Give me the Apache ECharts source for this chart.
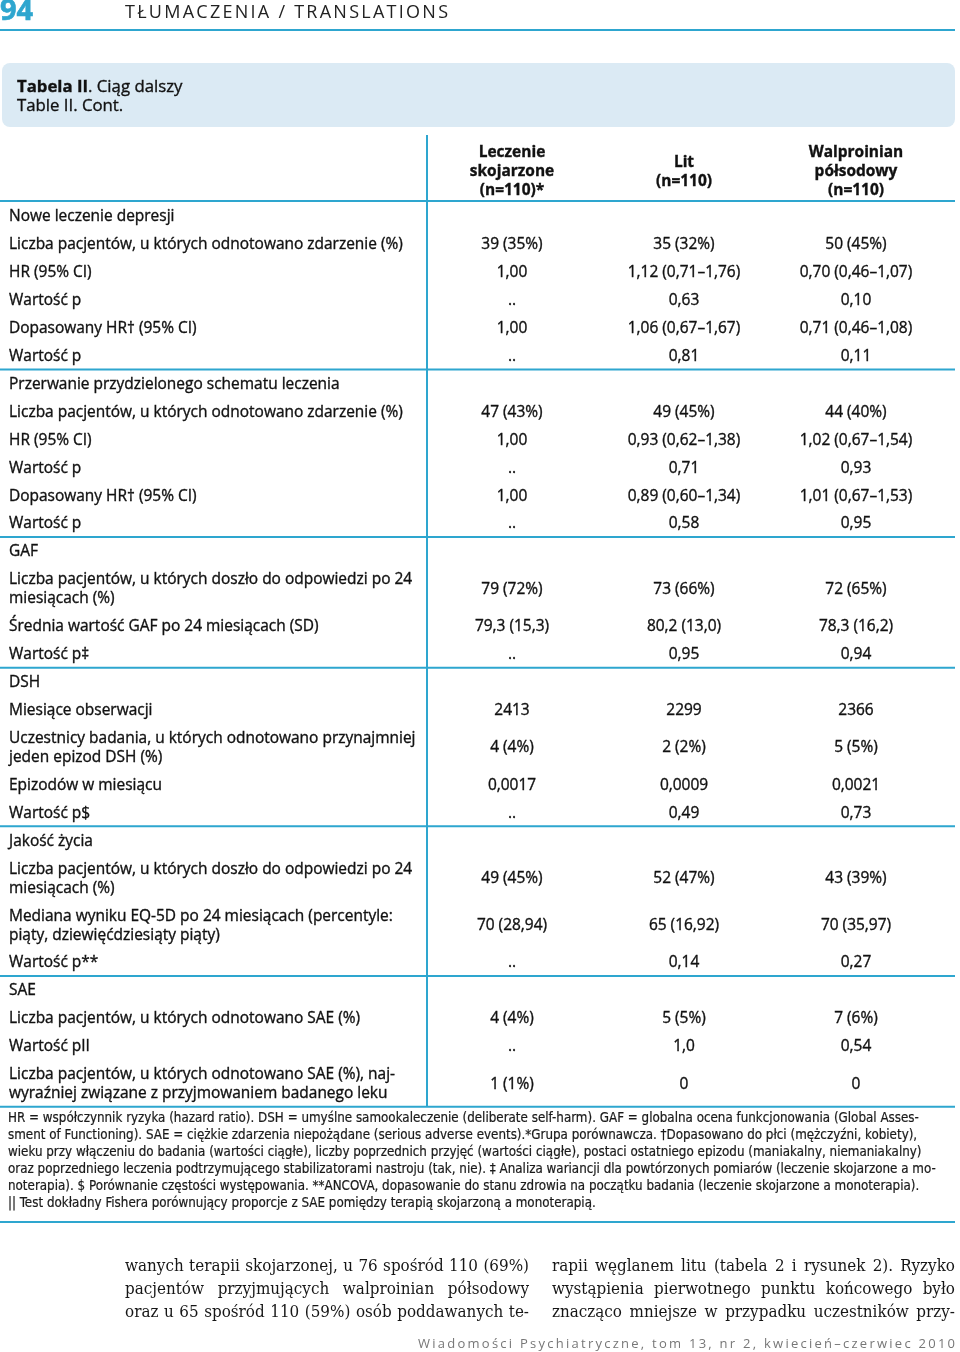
<!DOCTYPE html>
<html>
<head>
<meta charset="utf-8">
<script src="https://cdn.jsdelivr.net/npm/echarts@6/dist/echarts.min.js"></script>
<style>
  html, body { margin: 0; padding: 0; background: #fff; }
  #chart { width: 960px; height: 1352px; }
</style>
</head>
<body>
<div id="chart"></div>
<script>
// naglowki kolumn
const columnHeaders = ['Leczenie\nskojarzone\n(n=110)*', 'Lit\n(n=110)', 'Walproinian\npółsodowy\n(n=110)']

// sekcje tabeli
const sections = ['Nowe leczenie depresji', 'Przerwanie przydzielonego schematu leczenia', 'GAF', 'DSH', 'Jakość życia', 'SAE']

const rowLabels = [
  ['Liczba pacjentów, u których odnotowano zdarzenie (%)', 'HR (95% CI)', 'Wartość p', 'Dopasowany HR† (95% CI)', 'Wartość p'],
  ['Liczba pacjentów, u których odnotowano zdarzenie (%)', 'HR (95% CI)', 'Wartość p', 'Dopasowany HR† (95% CI)', 'Wartość p'],
  ['Liczba pacjentów, u których doszło do odpowiedzi po 24\nmiesiącach (%)', 'Średnia wartość GAF po 24 miesiącach (SD)', 'Wartość p‡'],
  ['Miesiące obserwacji', 'Uczestnicy badania, u których odnotowano przynajmniej\njeden epizod DSH (%)', 'Epizodów w miesiącu', 'Wartość p$'],
  ['Liczba pacjentów, u których doszło do odpowiedzi po 24\nmiesiącach (%)', 'Mediana wyniku EQ-5D po 24 miesiącach (percentyle:\npiąty, dziewięćdziesiąty piąty)', 'Wartość p**'],
  ['Liczba pacjentów, u których odnotowano SAE (%)', 'Wartość pII', 'Liczba pacjentów, u których odnotowano SAE (%), naj-\nwyraźniej związane z przyjmowaniem badanego leku']
]

const combined = [
  ['39 (35%)', '1,00', '..', '1,00', '..'],
  ['47 (43%)', '1,00', '..', '1,00', '..'],
  ['79 (72%)', '79,3 (15,3)', '..'],
  ['2413', '4 (4%)', '0,0017', '..'],
  ['49 (45%)', '70 (28,94)', '..'],
  ['4 (4%)', '..', '1 (1%)']
]

const lithium = [
  ['35 (32%)', '1,12 (0,71–1,76)', '0,63', '1,06 (0,67–1,67)', '0,81'],
  ['49 (45%)', '0,93 (0,62–1,38)', '0,71', '0,89 (0,60–1,34)', '0,58'],
  ['73 (66%)', '80,2 (13,0)', '0,95'],
  ['2299', '2 (2%)', '0,0009', '0,49'],
  ['52 (47%)', '65 (16,92)', '0,14'],
  ['5 (5%)', '1,0', '0']
]

const valproate = [
  ['50 (45%)', '0,70 (0,46–1,07)', '0,10', '0,71 (0,46–1,08)', '0,11'],
  ['44 (40%)', '1,02 (0,67–1,54)', '0,93', '1,01 (0,67–1,53)', '0,95'],
  ['72 (65%)', '78,3 (16,2)', '0,94'],
  ['2366', '5 (5%)', '0,0021', '0,73'],
  ['43 (39%)', '70 (35,97)', '0,27'],
  ['7 (6%)', '0,54', '0']
]

const footnotes = [
  'HR = współczynnik ryzyka (hazard ratio). DSH = umyślne samookaleczenie (deliberate self-harm). GAF = globalna ocena funkcjonowania (Global Asses-',
  'sment of Functioning). SAE = ciężkie zdarzenia niepożądane (serious adverse events).*Grupa porównawcza. †Dopasowano do płci (mężczyźni, kobiety),',
  'wieku przy włączeniu do badania (wartości ciągłe), liczby poprzednich przyjęć (wartości ciągłe), postaci ostatniego epizodu (maniakalny, niemaniakalny)',
  'oraz poprzedniego leczenia podtrzymującego stabilizatorami nastroju (tak, nie). ‡ Analiza wariancji dla powtórzonych pomiarów (leczenie skojarzone a mo-',
  'noterapia). $ Porównanie częstości występowania. **ANCOVA, dopasowanie do stanu zdrowia na początku badania (leczenie skojarzone a monoterapia).',
  '|| Test dokładny Fishera porównujący proporcje z SAE pomiędzy terapią skojarzoną a monoterapią.'
]

const bodyLeft = [
  'wanych terapii skojarzonej, u 76 spośród 110 (69%)',
  'pacjentów przyjmujących walproinian półsodowy',
  'oraz u 65 spośród 110 (59%) osób poddawanych te-'
]
const bodyRight = [
  'rapii węglanem litu (tabela 2 i rysunek 2). Ryzyko',
  'wystąpienia pierwotnego punktu końcowego było',
  'znacząco mniejsze w przypadku uczestników przy-'
]

const pageNumber = '94'
const runningHead = 'TŁUMACZENIA / TRANSLATIONS'
const tableTitle = ['Tabela II', '. Ciąg dalszy', 'Table II. Cont.']
const journal = 'Wiadomości Psychiatryczne, tom 13, nr 2, kwiecień–czerwiec 2010'

// --- pomiar tekstu ---
const ctx = document.createElement('canvas').getContext('2d')
const measure = (text, font) => { ctx.font = font; return ctx.measureText(text).width }
const fitSize = (text, family, weight, target) => {
  const w = measure(text, weight + ' 100px ' + family)
  return 100 * target / w
}

const CYAN = '#2ea6cf'
const INK = '#111'
const SANS = "'Open Sans', 'Noto Sans', sans-serif"
const NARROW = "'Liberation Sans Narrow', 'DejaVu Sans Condensed', 'Roboto Condensed', sans-serif"
const SERIF = "'DejaVu Serif', 'Liberation Serif', serif"
const DY = 2 // korekta pionowa wyrownania 'middle'

const tableSize = fitSize(rowLabels[0][0], SANS, 'normal', 394)
const tableFont = 'normal ' + tableSize + 'px ' + SANS
const titleSize = fitSize(tableTitle[0] + tableTitle[1], SANS, 'normal', 160)
const noteSize = Math.min(13.8, fitSize(footnotes[0], NARROW, 'normal', 912))

const elements = []
// lekkie pogrubienie konturem, jak w skanie
const text = (x, y, str, opt = {}, scaleX = 1) => elements.push({
  type: 'text', x, y: y + DY, scaleX, silent: true,
  style: Object.assign({
    text: str, fill: INK, font: tableFont, stroke: INK, lineWidth: 0.35,
    align: 'left', verticalAlign: 'middle', lineHeight: 19
  }, opt)
})
const hline = (x1, x2, y, w = 2) => elements.push({
  type: 'line', silent: true, shape: { x1, y1: y, x2, y2: y }, style: { stroke: CYAN, lineWidth: w }
})

// tekst z rozstrzelonymi literami
const spaced = (str, x0, x1, y, font, color) => {
  const widths = [...str].map(c => measure(c, font))
  const total = widths.reduce((a, b) => a + b, 0)
  const gap = (x1 - x0 - total) / (str.length - 1)
  let x = x0
  ;[...str].forEach((c, i) => {
    text(x, y, c, { font, fill: color, lineWidth: 0 })
    x += widths[i] + gap
  })
}

// justowanie akapitu (z poziomym zwezeniem kroju)
const justify = (line, x0, x1, y, font, sx) => {
  const words = line.split(' ')
  const widths = words.map(w => measure(w, font) * sx)
  const total = widths.reduce((a, b) => a + b, 0)
  const gap = (x1 - x0 - total) / (words.length - 1)
  let x = x0
  words.forEach((w, i) => { text(x, y, w, { font, fill: '#161616', lineWidth: 0 }, sx); x += widths[i] + gap })
}

// naglowek strony
text(0, 10, pageNumber, { font: 'bold 29px ' + SANS, fill: CYAN, stroke: CYAN, lineWidth: 0.6 })
spaced(runningHead, 125, 448, 11, 'normal 18px ' + SANS, '#222')
hline(0, 955, 30)

// tytul tabeli
elements.push({
  type: 'rect', silent: true, shape: { x: 2, y: 63, width: 953, height: 64, r: 8 },
  style: { fill: '#dbeaf4' }
})
const titleFont = 'normal ' + titleSize + 'px ' + SANS
text(17, 85, '{b|' + tableTitle[0] + '}' + tableTitle[1], {
  font: titleFont,
  rich: { b: { fontWeight: 'bold', fontSize: titleSize, fontFamily: SANS, fill: INK } }
})
text(17, 104, tableTitle[2], { font: titleFont })

// kolumny
const colX = [512, 684, 856]
const labelX = 9
columnHeaders.forEach((h, i) => text(colX[i], 170, h, {
  align: 'center', font: 'bold ' + tableSize + 'px ' + SANS
}))

const ROW = 27.9, LINE = 19, BEFORE = 13, AFTER = 15
let lineY = 201
hline(0, 955, lineY)
const colData = [combined, lithium, valproate]
sections.forEach((sec, s) => {
  let y = lineY + BEFORE + (s === 0 ? 1 : 0)
  text(labelX, y, sec)
  rowLabels[s].forEach((lab, r) => {
    const n = lab.split('\n').length
    const first = y + ROW
    const center = first + LINE * (n - 1) / 2
    text(labelX, center, lab)
    colData.forEach((col, c) => text(colX[c], center, col[s][r], { align: 'center' }))
    y = first + LINE * (n - 1)
  })
  lineY = y + AFTER
  hline(0, 955, lineY)
})
elements.push({
  type: 'line', silent: true, shape: { x1: 427, y1: 135, x2: 427, y2: lineY }, style: { stroke: CYAN, lineWidth: 2 }
})

// przypisy
footnotes.forEach((f, i) => text(8, lineY + 10 + i * 17, f, {
  font: 'normal ' + noteSize + 'px ' + NARROW, lineHeight: 17, fill: '#1a1a1a', stroke: '#1a1a1a', lineWidth: 0.2
}))
hline(0, 955, 1222)

// tekst glowny
const bodyFont = 'normal 17px ' + SERIF
const bodySX = 400 / measure(bodyLeft[0], bodyFont)
bodyLeft.forEach((l, i) => justify(l, 125, 529, 1265 + i * 23, bodyFont, bodySX))
bodyRight.forEach((l, i) => justify(l, 552, 955, 1265 + i * 23, bodyFont, bodySX))

// stopka
const footFont = 'normal 13px ' + SANS
spaced(journal, 418, 955, 1342, footFont, '#777')

const chart = echarts.init(document.getElementById('chart'), null, { renderer: 'canvas' })
chart.setOption({
  backgroundColor: '#fff',
  animation: false,
  graphic: { elements }
})
</script>
</body>
</html>
